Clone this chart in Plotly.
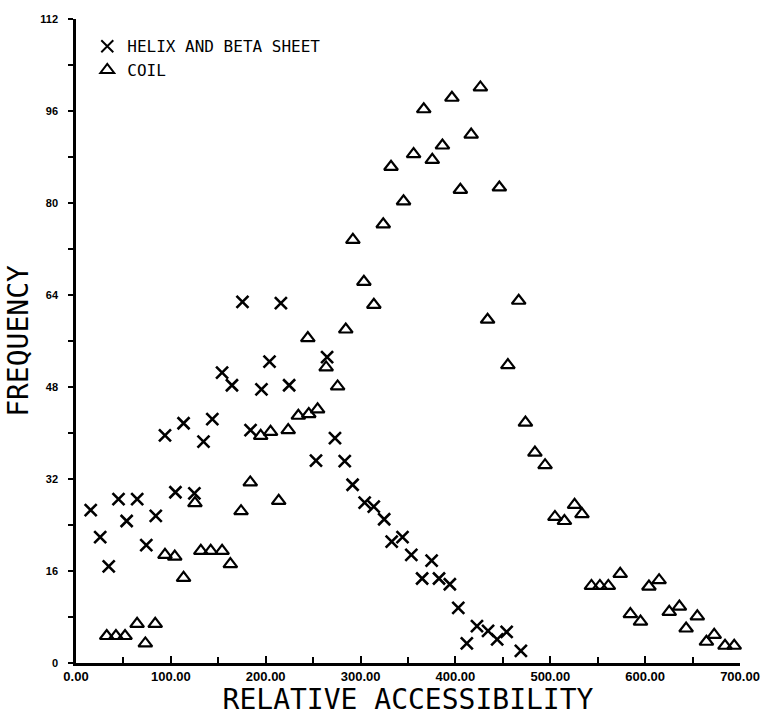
import plotly.graph_objects as go

# Helix and beta sheet (x markers)
helix_x = [15.5, 25.5, 34.5, 44.8, 53.4, 64.5, 74.1, 84.1, 93.8, 104.8, 113.4, 124.8,
           134.4, 143.7, 154, 164.4, 175.5, 184, 195.5, 204, 216, 224.7, 253, 264.7,
           273, 283.3, 291.6, 304.3, 313.9, 324.9, 332.8, 344.2, 353.5, 364.9, 374.9,
           382.7, 394.1, 403, 412, 422.7, 434.4, 444, 454, 469]
helix_y = [26.6, 21.9, 16.8, 28.5, 24.7, 28.5, 20.5, 25.6, 39.6, 29.7, 41.7, 29.5,
           38.5, 42.4, 50.5, 48.3, 62.8, 40.5, 47.6, 52.4, 62.6, 48.3, 35.2, 53.2,
           39.1, 35.1, 31.0, 27.9, 27.2, 25.0, 21.1, 21.9, 18.8, 14.7, 17.8,
           14.7, 13.7, 9.6, 3.4, 6.4, 5.6, 4.1, 5.4, 2.1]

# Coil (triangle markers)
coil_x = [32.4, 42.1, 51.7, 64.4, 73.1, 83.5, 93.8, 104.1, 113.4, 125.4, 131.6, 142,
          154, 162.7, 174, 183.7, 194.7, 205.1, 213.7, 223.7, 234.4, 244.4, 245.4,
          254.7, 263.7, 275.8, 284.4, 291.9, 303.5, 314, 323.9, 332.1, 345.3, 355.9,
          366.6, 375.6, 386.3, 396.3, 405.2, 416.6, 426.3, 433.9, 446.3, 455.3,
          466.7, 473.8, 483.8, 494.5, 504.9, 514.9, 525.6, 533.4, 543.4, 552.3,
          561.2, 573.7, 584.4, 595.1, 604, 614.7, 625.4, 636.1, 643.2, 655, 664.6,
          672.8, 684.2, 693.9, 702]
coil_y = [4.7, 4.7, 4.7, 6.8, 3.4, 6.8, 18.8, 18.5, 14.8, 27.8, 19.5, 19.5,
          19.5, 17.2, 26.4, 31.4, 39.5, 40.2, 28.2, 40.5, 43.0, 56.5, 43.3,
          44.1, 51.4, 48.1, 58.0, 73.6, 66.3, 62.3, 76.3, 86.3, 80.3, 88.5,
          96.3, 87.5, 90.0, 98.3, 82.3, 91.9, 100.1, 59.7, 82.7, 51.8,
          63.0, 41.8, 36.6, 34.4, 25.4, 24.7, 27.5, 25.9, 13.4, 13.4,
          13.4, 15.5, 8.5, 7.2, 13.3, 14.4, 8.9, 9.8, 6.0, 8.1, 3.7,
          4.9, 3.0, 3.0, 2.6]

x_ticks = [0, 100, 200, 300, 400, 500, 600, 700]
y_ticks = [0, 16, 32, 48, 64, 80, 96, 112]

fig = go.Figure()
fig.add_trace(go.Scatter(
    x=helix_x, y=helix_y, mode="markers", name="HELIX AND BETA SHEET",
    marker=dict(symbol="x-thin", size=12, color="black",
                line=dict(width=2.6, color="black")),
    cliponaxis=False,
))
fig.add_trace(go.Scatter(
    x=coil_x, y=coil_y, mode="markers", name="COIL",
    marker=dict(symbol="triangle-up-open", size=12, color="black",
                line=dict(width=2.2, color="black")),
    cliponaxis=False,
))

title_font = dict(family="DejaVu Sans Mono", size=28, color="black")

fig.update_layout(
    width=761, height=716,
    margin=dict(l=76, r=21, t=19, b=53),
    paper_bgcolor="white", plot_bgcolor="white",
    showlegend=True,
    legend=dict(x=0.017, y=0.984, xanchor="left", yanchor="top",
                bgcolor="rgba(0,0,0,0)", borderwidth=0,
                font=dict(family="DejaVu Sans Mono", size=16, color="black"),
                tracegroupgap=0, itemsizing="constant"),
    xaxis=dict(
        range=[0, 700], tickvals=x_ticks, ticktext=[f"{v:.2f}" for v in x_ticks],
        automargin=False,
        showgrid=False, zeroline=False, showline=True, linecolor="black", linewidth=2.5,
        ticks="inside", ticklen=7, tickwidth=2, tickcolor="black",
        minor=dict(dtick=50, ticks="inside", ticklen=6, tickwidth=2, tickcolor="black"),
        tickfont=dict(family="Liberation Sans", size=13, color="black", weight="bold"),
        title=dict(text="RELATIVE ACCESSIBILITY", font=title_font, standoff=12),
    ),
    yaxis=dict(
        range=[0, 112], tickvals=y_ticks, ticktext=[str(v) for v in y_ticks],
        automargin=False,
        showgrid=False, zeroline=False, showline=True, linecolor="black", linewidth=2.5,
        ticks="outside", ticklen=5, tickwidth=2, tickcolor="black",
        minor=dict(dtick=8, ticks="outside", ticklen=5, tickwidth=2, tickcolor="black"),
        tickfont=dict(family="Liberation Sans", size=11, color="black", weight="bold"),
        ticklabelstandoff=8,
        title=dict(text="FREQUENCY", font=title_font, standoff=4),
    ),
)

fig.write_html("out.html")
